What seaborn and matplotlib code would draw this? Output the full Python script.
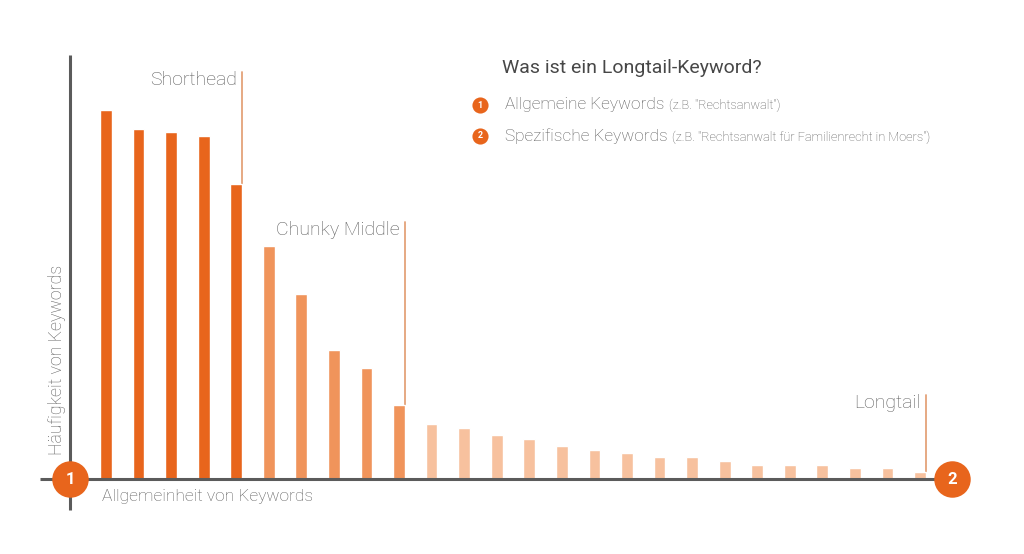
import matplotlib
matplotlib.use("Agg")
import matplotlib.pyplot as plt
import seaborn as sns
import pandas as pd

# ---------------- data ----------------
keywords = [f"K{i + 1}" for i in range(26)]
values = [369, 350, 347, 343, 295, 233, 185, 129, 111, 74,
          55, 51, 44, 40, 33, 29, 26, 22, 22, 18, 14, 14, 14, 11, 11, 7]
segments = ["Shorthead"] * 5 + ["Chunky Middle"] * 5 + ["Longtail"] * 16
segment_names = ["Shorthead", "Chunky Middle", "Longtail"]
segment_colors = {"Shorthead": "#E8651C", "Chunky Middle": "#F0945B", "Longtail": "#F7C19E"}
marker_tops = [407, 257, 84]

title = "Was ist ein Longtail-Keyword?"
legend_main = ["Allgemeine Keywords", "Spezifische Keywords"]
legend_note = ['(z.B. "Rechtsanwalt")', '(z.B. "Rechtsanwalt für Familienrecht in Moers")']
xlabel = "Allgemeinheit von Keywords"
ylabel = "Häufigkeit von Keywords"

# ---------------- style ----------------
sns.set_theme(style="white")
plt.rcParams["font.family"] = ["Roboto", "DejaVu Sans"]

W, H = 1024, 554
fig = plt.figure(figsize=(W / 100, H / 100), dpi=100)
ax = fig.add_axes([0, 0, 1, 1])

# layout helpers (pixel -> data)
X0, DX, BASE = 106, 32.56, 479
def X(px):
    return (px - X0) / DX
def Y(py):
    return BASE - py

df = pd.DataFrame({"keyword": keywords, "value": values, "segment": segments})
bar_w = 0.36
sns.barplot(data=df, x="keyword", y="value", hue="segment", order=keywords,
            hue_order=segment_names, palette=segment_colors, dodge=False,
            width=bar_w, saturation=1, legend=False, ax=ax, zorder=2)

ax.set_xlim(X(0), X(W))
ax.set_ylim(Y(H), Y(0))
ax.axis("off")

axis_col = "#5b5b5b"
orange = "#E8651C"
text_col = "#5c5c5c"

# axes lines
ax.plot([X(70), X(70)], [Y(510), Y(55)], color=axis_col, lw=2.2, zorder=3, solid_capstyle="butt")
ax.plot([X(40), X(935)], [0, 0], color=axis_col, lw=2.2, zorder=3, solid_capstyle="butt")

# segment markers + labels
seg_list = list(df["segment"])
for name, top in zip(segment_names, marker_tops):
    last = max(i for i, s in enumerate(seg_list) if s == name)
    xl = last + bar_w / 2
    ax.plot([xl, xl], [0, top], color="#E4A37A", lw=1.3, zorder=1)
    ax.text(xl - 5 / DX, top + 1, name, ha="right", va="top", fontsize=14,
            color=text_col, fontweight="light")

# endpoint circles
for px, lab in [(70, "1"), (952, "2")]:
    ax.scatter([X(px)], [0], s=690, color=orange, zorder=5, linewidths=0)
    ax.text(X(px), 0, lab, ha="center", va="center", color="white",
            fontsize=12, fontweight="bold", zorder=6)

# axis labels
ax.text(X(57), Y(455), ylabel, rotation=90, ha="center", va="bottom",
        fontsize=12.8, color=text_col, fontweight="light")
ax.text(X(102), Y(496), xlabel, ha="left", va="center",
        fontsize=12.5, color=text_col, fontweight="light")

# title + legend
ax.text(X(502), Y(68), title, ha="left", va="center", fontsize=14,
        color="#474747")
for k, (py, main, note) in enumerate(zip([105, 136], legend_main, legend_note)):
    ax.scatter([X(480)], [Y(py)], s=135, color=orange, zorder=5, linewidths=0)
    ax.text(X(480), Y(py), str(k + 1), ha="center", va="center", color="white",
            fontsize=6.5, fontweight="bold", zorder=6)
    t = ax.text(X(505), Y(py), main, ha="left", va="center", fontsize=12.4,
                color=text_col, fontweight="light")
    ax.annotate(note, xy=(1, 0), xycoords=t, xytext=(3, 0), textcoords="offset points",
                ha="left", va="bottom", fontsize=9.2, color=text_col, fontweight="light")

fig.savefig("out.png", dpi=100, facecolor="white")
